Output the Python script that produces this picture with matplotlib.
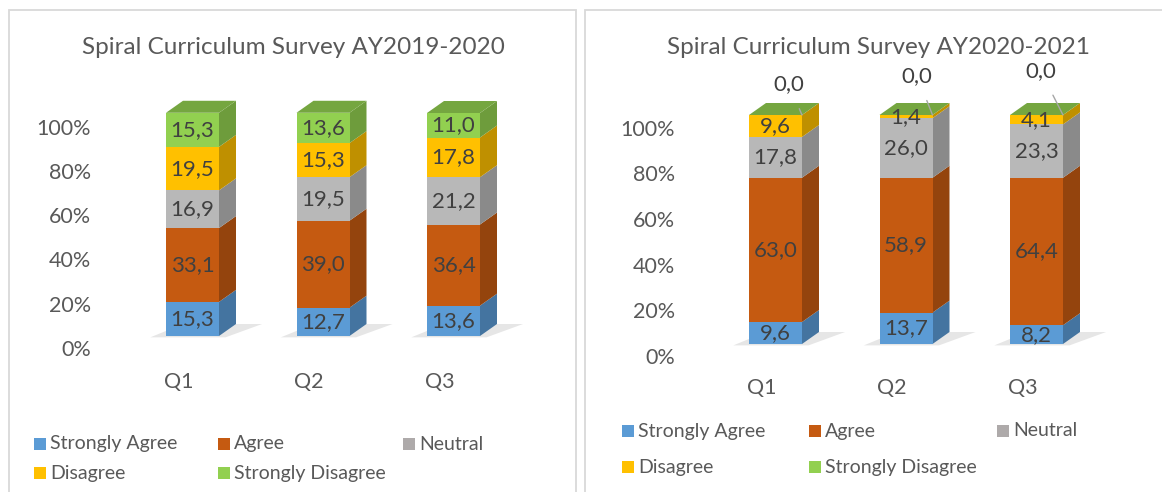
import numpy as np
import matplotlib.pyplot as plt
from matplotlib.patches import Polygon, Rectangle
from matplotlib.colors import to_rgb

plt.rcParams['font.family'] = ['Lato', 'DejaVu Sans']

# data
questions = ['Q1', 'Q2', 'Q3']
levels = ['Strongly Agree', 'Agree', 'Neutral', 'Disagree', 'Strongly Disagree']
colors = ['#5B9BD5', '#C55A11', '#B8B8B8', '#FFC000', '#92D050']
legend_colors = ['#5B9BD5', '#C55A11', '#AEAAAA', '#FFC000', '#92D050']

title_1920 = 'Spiral Curriculum Survey AY2019-2020'
sa_1920 = [15.3, 12.7, 13.6]
a_1920 = [33.1, 39.0, 36.4]
n_1920 = [16.9, 19.5, 21.2]
d_1920 = [19.5, 15.3, 17.8]
sd_1920 = [15.3, 13.6, 11.0]

title_2021 = 'Spiral Curriculum Survey AY2020-2021'
sa_2021 = [9.6, 13.7, 8.2]
a_2021 = [63.0, 58.9, 64.4]
n_2021 = [17.8, 26.0, 23.3]
d_2021 = [9.6, 1.4, 4.1]
sd_2021 = [0.0, 0.0, 0.0]

tick_labels = ['0%', '20%', '40%', '60%', '80%', '100%']

W, H = 1162, 492
fig = plt.figure(figsize=(W / 100, H / 100), dpi=100)

TXT = '#595959'
VAL = '#404040'


def shade(c, f):
    r, g, b = to_rgb(c)
    return (r * f, g * f, b * f)


def fig_box(l, t, r, b):
    return [l / W, 1 - b / H, (r - l) / W, (b - t) / H]


def panel(frame, ax_box, x0, step, y0, ypu, tick_px, title, title_xy,
          series, zero_offsets, legend_x, legend_y, xlab_pad):
    # grey frame around the chart
    l, t, r, b = frame
    fig.patches.append(Rectangle((l / W, 1 - b / H), (r - l) / W, (b - t) / H,
                                 transform=fig.transFigure, fill=False,
                                 edgecolor='#D9D9D9', linewidth=1.3))
    ax = fig.add_axes(fig_box(*ax_box))
    al, at, ar, ab = ax_box
    ax.set_xlim((al - x0) / step, (ar - x0) / step)
    ax.set_ylim((y0 - ab) / ypu, (y0 - at) / ypu)
    for s in ax.spines.values():
        s.set_visible(False)
    ax.patch.set_alpha(0)

    xs = np.arange(len(questions))
    w = 53 / step
    ddx = 17 / step
    ddy = 12 / ypu

    # floor shadow
    for x in xs:
        xl, xr = x - w / 2, x + w / 2
        ax.add_patch(Polygon([(xl - 0.12, -0.6), (xr + 0.05, -0.6), (xr + ddx + 0.2, ddy),
                              (xl + ddx, ddy)], closed=True, color='#E6E6E6', lw=0, zorder=1))

    bottoms = np.zeros(len(xs))
    for vals, c in zip(series, colors):
        vals = np.array(vals)
        ax.bar(xs, vals, w, bottom=bottoms, color=c, linewidth=0, zorder=3)
        for x, bt, v in zip(xs, bottoms, vals):
            xr = x + w / 2
            ax.add_patch(Polygon([(xr, bt), (xr + ddx, bt + ddy), (xr + ddx, bt + v + ddy), (xr, bt + v)],
                                 closed=True, color=shade(c, 0.75), lw=0, zorder=2))
        bottoms = bottoms + vals
    # top faces take the colour of the last series
    for x, T in zip(xs, bottoms):
        xl, xr = x - w / 2, x + w / 2
        ax.add_patch(Polygon([(xl, T), (xl + ddx, T + ddy), (xr + ddx, T + ddy), (xr, T)],
                             closed=True, color=shade(colors[-1], 0.8), lw=0, zorder=3))

    # value labels
    bottoms = np.zeros(len(xs))
    for vals in series:
        for i, (x, bt, v) in enumerate(zip(xs, bottoms, vals)):
            lab = f'{v:.1f}'.replace('.', ',')
            if v > 0:
                ax.text(x, bt + v / 2, lab, ha='center', va='center', fontsize=16,
                        color=VAL, zorder=5)
            else:
                ox, oy = zero_offsets[i]
                ax.annotate(lab, xy=(x + w / 2, bt), xytext=(ox, oy), textcoords='offset points',
                            ha='center', va='center', fontsize=16, color=VAL, zorder=5,
                            arrowprops=dict(arrowstyle='-', color='#A6A6A6', lw=1,
                                            shrinkA=9, shrinkB=0))
        bottoms = bottoms + np.array(vals)

    ty = [(y0 - p) / ypu for p in tick_px]
    ax.set_yticks(ty, tick_labels)
    ax.set_xticks(xs - 14 / step, questions)
    ax.tick_params(length=0, labelsize=15.5, labelcolor=TXT)
    ax.tick_params(axis='y', pad=6.5)
    ax.tick_params(axis='x', pad=xlab_pad)

    fig.text(title_xy[0] / W, 1 - title_xy[1] / H, title, ha='center', va='center',
             fontsize=17.5, color=TXT)

    # legend, laid out like the Excel one (3 per row)
    for k, (name, c) in enumerate(zip(levels, legend_colors)):
        lx = legend_x[k % 3]
        ly = legend_y[k // 3]
        fig.patches.append(Rectangle(((lx) / W, 1 - (ly + 6) / H), 12 / W, 12 / H,
                                     transform=fig.transFigure, color=c, lw=0))
        fig.text((lx + 16) / W, 1 - ly / H, name, ha='left', va='center',
                 fontsize=14, color=TXT)


panel(frame=(9, 10, 576, 505), ax_box=(100, 60, 560, 365),
      x0=192.5, step=130.5, y0=336, ypu=2.23,
      tick_px=[348, 304, 259, 215, 171, 127],
      title=title_1920, title_xy=(293, 48),
      series=[sa_1920, a_1920, n_1920, d_1920, sd_1920],
      zero_offsets=[(0, 20)] * 3,
      legend_x=[34, 218, 403], legend_y=[444, 473], xlab_pad=5)

panel(frame=(585, 10, 1175, 505), ax_box=(684, 60, 1150, 370),
      x0=775.5, step=130.5, y0=344, ypu=2.29,
      tick_px=[356, 310, 265, 219, 173, 128],
      title=title_2021, title_xy=(878, 48),
      series=[sa_2021, a_2021, n_2021, d_2021, sd_2021],
      zero_offsets=[(-9.5, 22), (-11, 28), (-16, 31.5)],
      legend_x=[622, 809, 997], legend_y=[431, 467], xlab_pad=6)

fig.savefig('out.png', dpi=100)
